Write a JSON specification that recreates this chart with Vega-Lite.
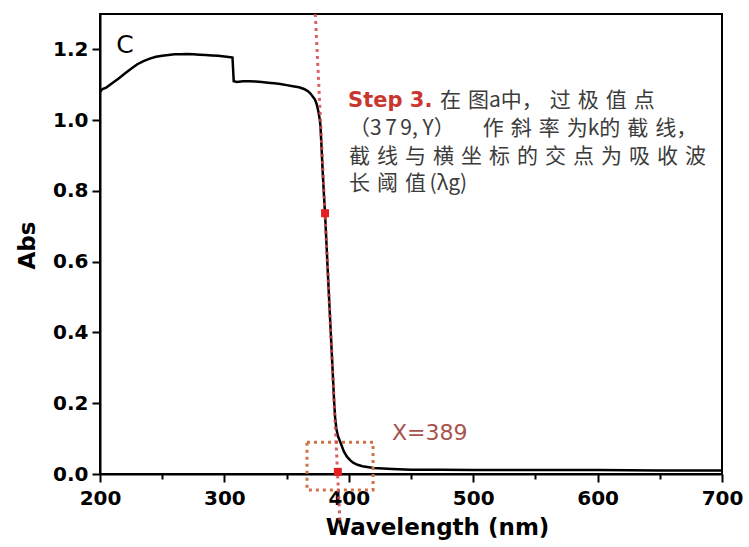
{
  "$schema": "https://vega.github.io/schema/vega-lite/v6.json",
  "width": 622,
  "height": 460,
  "autosize": {"type": "none"},
  "padding": {"left": 100, "top": 14, "right": 27, "bottom": 73},
  "background": "white",
  "config": {
    "view": {"stroke": "black", "strokeWidth": 2},
    "axis": {
      "domainColor": "black", "domainWidth": 2, "tickColor": "black", "tickWidth": 2, "grid": false,
      "labelFont": "DejaVu Sans", "labelFontWeight": "bold", "labelFontSize": 20, "labelColor": "black",
      "titleFont": "DejaVu Sans", "titleFontWeight": "bold", "titleFontSize": 23, "titleColor": "black"
    }
  },
  "datasets": {
    "curve": [
      {"wl": 200, "abs": 1.080}, {"wl": 202, "abs": 1.088}, {"wl": 205, "abs": 1.092}, {"wl": 210, "abs": 1.105},
      {"wl": 215, "abs": 1.118}, {"wl": 220, "abs": 1.132}, {"wl": 225, "abs": 1.145}, {"wl": 230, "abs": 1.158},
      {"wl": 235, "abs": 1.167}, {"wl": 240, "abs": 1.174}, {"wl": 245, "abs": 1.179}, {"wl": 250, "abs": 1.182},
      {"wl": 255, "abs": 1.184}, {"wl": 260, "abs": 1.186}, {"wl": 265, "abs": 1.186}, {"wl": 270, "abs": 1.187},
      {"wl": 275, "abs": 1.186}, {"wl": 280, "abs": 1.185}, {"wl": 285, "abs": 1.184}, {"wl": 290, "abs": 1.183},
      {"wl": 295, "abs": 1.182}, {"wl": 300, "abs": 1.180}, {"wl": 305, "abs": 1.178}, {"wl": 306.5, "abs": 1.177},
      {"wl": 307.5, "abs": 1.110}, {"wl": 310, "abs": 1.108}, {"wl": 315, "abs": 1.110}, {"wl": 320, "abs": 1.110},
      {"wl": 325, "abs": 1.109}, {"wl": 330, "abs": 1.108}, {"wl": 335, "abs": 1.106}, {"wl": 340, "abs": 1.104},
      {"wl": 345, "abs": 1.102}, {"wl": 350, "abs": 1.099}, {"wl": 355, "abs": 1.096}, {"wl": 360, "abs": 1.093},
      {"wl": 364, "abs": 1.088}, {"wl": 367, "abs": 1.082}, {"wl": 369, "abs": 1.076}, {"wl": 371, "abs": 1.067},
      {"wl": 372.8, "abs": 1.058}, {"wl": 374.2, "abs": 1.045}, {"wl": 375.5, "abs": 1.025}, {"wl": 376.5, "abs": 1.005},
      {"wl": 377.2, "abs": 0.985}, {"wl": 378, "abs": 0.93}, {"wl": 379, "abs": 0.855}, {"wl": 380, "abs": 0.79},
      {"wl": 380.9, "abs": 0.737}, {"wl": 382, "abs": 0.655}, {"wl": 383, "abs": 0.58}, {"wl": 384.1, "abs": 0.5},
      {"wl": 385.5, "abs": 0.4}, {"wl": 386.9, "abs": 0.3}, {"wl": 388.2, "abs": 0.205}, {"wl": 389, "abs": 0.16},
      {"wl": 390, "abs": 0.128}, {"wl": 391.2, "abs": 0.108}, {"wl": 393, "abs": 0.092}, {"wl": 394.5, "abs": 0.078},
      {"wl": 396, "abs": 0.064}, {"wl": 398.5, "abs": 0.049}, {"wl": 401, "abs": 0.039}, {"wl": 403.5, "abs": 0.032},
      {"wl": 407, "abs": 0.026}, {"wl": 411, "abs": 0.022}, {"wl": 420, "abs": 0.017}, {"wl": 435, "abs": 0.014},
      {"wl": 450, "abs": 0.012}, {"wl": 475, "abs": 0.012}, {"wl": 500, "abs": 0.011}, {"wl": 550, "abs": 0.011},
      {"wl": 600, "abs": 0.011}, {"wl": 650, "abs": 0.010}, {"wl": 700, "abs": 0.010}
    ],
    "tangent": [{"wl": 373.1, "abs": 1.3, "wl2": 393.0, "abs2": -0.145}],
    "box": [{"wl": 366.4, "abs": -0.045, "wl2": 419.5, "abs2": 0.09}],
    "points": [{"wl": 380.9, "abs": 0.737}, {"wl": 391.2, "abs": 0.006}],
    "step": [{"wl": 399.4, "abs": 1.053, "t": "Step 3."}],
    "zh": [
      {"wl": 473.3, "abs": 1.053, "t": "在\u2004图a中，\u2004过\u2004极\u2004值\u2004点"},
      {"wl": 400.2, "abs": 0.974, "t": "（3\u20067\u20069, Y）\u2003\u2004作\u2004斜\u2004率\u2004为k的\u2004截\u2004线，"},
      {"wl": 400.2, "abs": 0.895, "t": "截\u2004线\u2004与\u2004横\u2004坐\u2004标\u2004的\u2004交\u2004点\u2004为\u2004吸\u2004收\u2004波"},
      {"wl": 400.2, "abs": 0.819, "t": "长\u2004阈\u2004值\u2006(λg)"}
    ],
    "xlab": [{"wl": 434.7, "abs": 0.116, "t": "X=389"}],
    "clab": [{"wl": 220, "abs": 1.211, "t": "C"}]
  },
  "layer": [
    {
      "data": {"name": "curve"},
      "mark": {"type": "line", "color": "black", "strokeWidth": 2.5},
      "encoding": {
        "x": {
          "field": "wl", "type": "quantitative",
          "scale": {"domain": [200, 700], "nice": false, "zero": false},
          "axis": {
            "title": "Wavelength (nm)",
            "values": [200, 250, 300, 350, 400, 450, 500, 550, 600, 650, 700],
            "labelExpr": "datum.value % 100 == 0 ? datum.label : ''",
            "tickSize": {"condition": {"test": "datum.value % 100 == 0", "value": 8}, "value": 5},
            "labelPadding": 6, "labelFlush": false, "labelOverlap": false,
            "titleX": 337, "titleY": 53, "titleAlign": "center", "titleBaseline": "middle"
          }
        },
        "y": {
          "field": "abs", "type": "quantitative",
          "scale": {"domain": [0, 1.3], "nice": false, "zero": false},
          "axis": {
            "title": "Abs",
            "values": [0, 0.1, 0.2, 0.3, 0.4, 0.5, 0.6, 0.7, 0.8, 0.9, 1.0, 1.1, 1.2],
            "labelExpr": "round(datum.value*10) % 2 == 0 ? format(datum.value, '.1f') : ''",
            "tickSize": {"condition": {"test": "round(datum.value*10) % 2 == 0", "value": 8}, "value": 5},
            "labelPadding": 4, "labelFlush": false, "labelOverlap": false,
            "titleX": -73, "titleY": 231, "titleAlign": "center", "titleBaseline": "middle", "titleAngle": -90
          }
        }
      }
    },
    {
      "data": {"name": "box"},
      "mark": {"type": "rect", "fill": null, "fillOpacity": 0, "stroke": "#cf7448", "strokeWidth": 3, "strokeDash": [3, 4]},
      "encoding": {
        "x": {"field": "wl", "type": "quantitative"},
        "x2": {"field": "wl2"},
        "y": {"field": "abs", "type": "quantitative"},
        "y2": {"field": "abs2"}
      }
    },
    {
      "data": {"name": "tangent"},
      "mark": {"type": "rule", "color": "#d0454a", "strokeWidth": 3, "strokeDash": [3, 4], "opacity": 0.85},
      "encoding": {
        "x": {"field": "wl", "type": "quantitative"},
        "x2": {"field": "wl2"},
        "y": {"field": "abs", "type": "quantitative"},
        "y2": {"field": "abs2"}
      }
    },
    {
      "data": {"name": "points"},
      "mark": {"type": "square", "color": "#e3201f", "size": 64, "opacity": 1},
      "encoding": {
        "x": {"field": "wl", "type": "quantitative"},
        "y": {"field": "abs", "type": "quantitative"}
      }
    },
    {
      "data": {"name": "step"},
      "mark": {"type": "text", "font": "DejaVu Sans", "fontWeight": "bold", "fontSize": 21, "color": "#c9362f", "align": "left", "baseline": "middle"},
      "encoding": {
        "x": {"field": "wl", "type": "quantitative"},
        "y": {"field": "abs", "type": "quantitative"},
        "text": {"field": "t"}
      }
    },
    {
      "data": {"name": "zh"},
      "mark": {"type": "text", "font": "Noto Sans CJK SC", "fontSize": 21, "color": "#3c3c3c", "align": "left", "baseline": "middle"},
      "encoding": {
        "x": {"field": "wl", "type": "quantitative"},
        "y": {"field": "abs", "type": "quantitative"},
        "text": {"field": "t"}
      }
    },
    {
      "data": {"name": "xlab"},
      "mark": {"type": "text", "font": "DejaVu Sans", "fontSize": 22, "color": "#a8524e", "align": "left", "baseline": "middle"},
      "encoding": {
        "x": {"field": "wl", "type": "quantitative"},
        "y": {"field": "abs", "type": "quantitative"},
        "text": {"field": "t"}
      }
    },
    {
      "data": {"name": "clab"},
      "mark": {"type": "text", "font": "DejaVu Sans", "fontSize": 25, "color": "black", "align": "center", "baseline": "middle"},
      "encoding": {
        "x": {"field": "wl", "type": "quantitative"},
        "y": {"field": "abs", "type": "quantitative"},
        "text": {"field": "t"}
      }
    }
  ]
}
